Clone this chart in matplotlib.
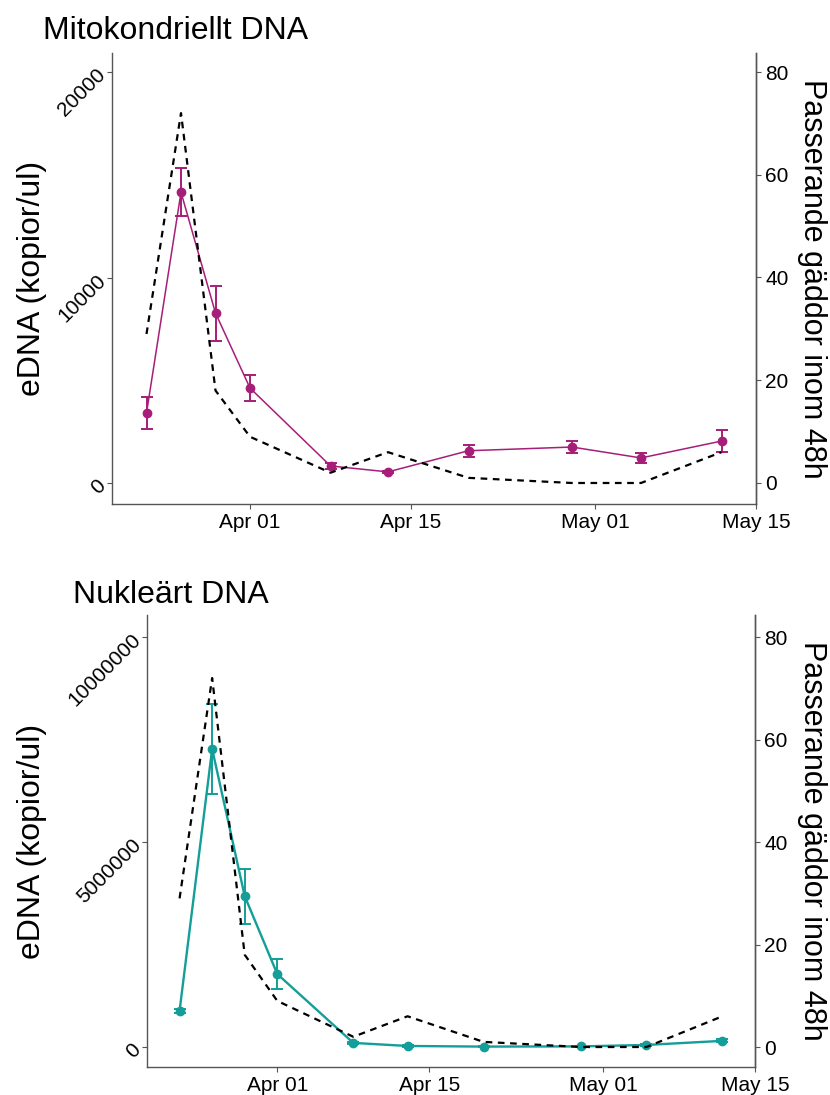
import numpy as np
import pandas as pd
import matplotlib
matplotlib.use("Agg")
import matplotlib.pyplot as plt
import matplotlib.dates as mdates

plt.rcParams['font.family'] = ['Liberation Sans', 'DejaVu Sans']

# sampling dates (year arbitrary)
dates = pd.to_datetime(["2020-03-23", "2020-03-26", "2020-03-29", "2020-04-01",
                        "2020-04-08", "2020-04-13", "2020-04-20", "2020-04-29",
                        "2020-05-05", "2020-05-12"])

# passing pike within 48h (right axis)
fish = [29, 72, 18, 9, 2, 6, 1, 0, 0, 6]

# mitochondrial eDNA (copies/ul)
mito_mean = [3400, 14150, 8270, 4620, 830, 540, 1570, 1750, 1220, 2040]
mito_err = [780, 1170, 1340, 630, 150, 60, 290, 290, 245, 535]

# nuclear eDNA (copies/ul)
nuc_mean = [880000, 7270000, 3680000, 1780000, 100000, 25000, 10000, 15000, 50000, 150000]
nuc_err = [50000, 1100000, 670000, 355000, 30000, 15000, 15000, 15000, 20000, 40000]

W, H = 830, 1095
fig = plt.figure(figsize=(W / 100, H / 100), dpi=100)

spine_col = "#555555"
xlim = (pd.Timestamp("2020-03-20"), pd.Timestamp("2020-05-15"))
xticks = pd.to_datetime(["2020-04-01", "2020-04-15", "2020-05-01", "2020-05-15"])


def box(l, t, r, b):
    return [l / W, 1 - b / H, (r - l) / W, (b - t) / H]


def panel(rect, mean, err, color, lw, ylim, yticks, ytl, ylim2):
    ax = fig.add_axes(rect)
    ax.errorbar(dates, mean, yerr=err, color=color, lw=lw, marker="o", ms=6,
                capsize=4.5, elinewidth=1.4, capthick=1.4, zorder=3)
    ax.set_xlim(*xlim)
    ax.set_ylim(*ylim)
    ax.set_xticks(xticks)
    ax.xaxis.set_major_formatter(mdates.DateFormatter("%b %d"))
    ax.set_yticks(yticks)
    ax.set_yticklabels(ytl, rotation=45, ha="right", va="center",
                       rotation_mode="anchor")
    ax2 = ax.twinx()
    ax2.plot(dates, fish, color="black", lw=1.6, ls=(0, (3, 2.5)), zorder=2)
    ax2.set_ylim(*ylim2)
    ax2.set_yticks([0, 20, 40, 60, 80])
    for a in (ax, ax2):
        a.spines["top"].set_visible(False)
        for s in a.spines.values():
            s.set_color(spine_col)
            s.set_linewidth(1.0)
        a.tick_params(length=3.5, width=0.8, color=spine_col, labelsize=15,
                      labelcolor="black", pad=3)
    ax2.spines["left"].set_visible(False)
    ax2.spines["bottom"].set_visible(False)
    return ax, ax2


panel(box(112, 53, 756, 504), mito_mean, mito_err, "#A61E78", 1.1,
      (-1022, 20925), [0, 10000, 20000], ["0", "10000", "20000"], (-4.09, 83.7))
panel(box(147, 615, 755, 1067), nuc_mean, nuc_err, "#139E99", 1.7,
      (-487800, 1.0537e7), [0, 5e6, 1e7], ["0", "5000000", "10000000"], (-3.9, 84.3))

fig.text(43 / W, 1 - 39 / H, "Mitokondriellt DNA", fontsize=23, va="baseline", ha="left")
fig.text(73 / W, 1 - 603 / H, "Nukleärt DNA", fontsize=23, va="baseline", ha="left")

for yc in (278.5, 841):
    fig.text(32 / W, 1 - yc / H, "eDNA (kopior/ul)", fontsize=23, rotation=90,
             ha="center", va="center")
    fig.text(812 / W, 1 - yc / H, "Passerande gäddor inom 48h", fontsize=22,
             rotation=270, ha="center", va="center")

fig.savefig("out.png", dpi=100)
